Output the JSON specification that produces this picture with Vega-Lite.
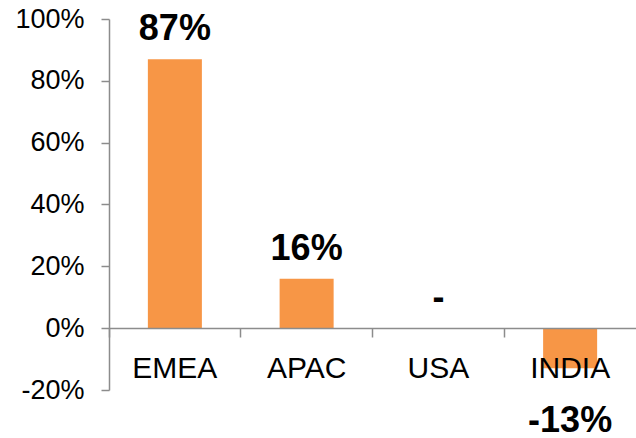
{
  "$schema": "https://vega.github.io/schema/vega-lite/v6.json",
  "autosize": "none",
  "padding": {"left": 109, "top": 19, "right": 0, "bottom": 48},
  "width": 527,
  "height": 371,
  "background": "white",
  "config": {"view": {"stroke": null}, "font": "Liberation Sans"},
  "data": {"values": [
    {"region": "EMEA", "value": 0.87, "label": "87%"},
    {"region": "APAC", "value": 0.16, "label": "16%"},
    {"region": "USA", "value": 0.0, "label": "-"},
    {"region": "INDIA", "value": -0.13, "label": "-13%"}
  ]},
  "encoding": {
    "x": {"field": "region", "type": "nominal", "sort": null,
      "scale": {"paddingInner": 0, "paddingOuter": 0},
      "axis": {"title": null, "orient": "bottom", "offset": -62, "zindex": 1,
        "bandPosition": 0, "domainColor": "#8c8c8c", "domainWidth": 1.5,
        "tickColor": "#8c8c8c", "tickSize": 9, "tickWidth": 1.5,
        "labelFontSize": 30, "labelColor": "black", "labelPadding": 16,
        "labelAlign": "center", "labelAngle": 0, "labelFont": "Liberation Sans"}},
    "y": {"field": "value", "type": "quantitative",
      "scale": {"domain": [-0.2, 1.0], "nice": false, "zero": false},
      "axis": {"title": null, "format": ".0%", "values": [-0.2, 0, 0.2, 0.4, 0.6, 0.8, 1.0],
        "labelExpr": "replace(datum.label, '\u2212', '-')",
        "grid": false, "domainColor": "#8c8c8c", "domainWidth": 1.5,
        "tickColor": "#8c8c8c", "tickSize": 8, "tickWidth": 1.5,
        "labelFontSize": 27, "labelColor": "black", "labelPadding": 17,
        "labelFont": "Liberation Sans"}}
  },
  "layer": [
    {"mark": {"type": "bar", "color": "#F79646", "width": {"band": 0.41}}},
    {"transform": [{"filter": "datum.value >= 0"}],
     "mark": {"type": "text", "fontSize": 36, "fontWeight": "bold", "baseline": "alphabetic", "dy": -19, "color": "black"},
     "encoding": {"text": {"field": "label"}}},
    {"transform": [{"filter": "datum.value < 0"}],
     "mark": {"type": "text", "fontSize": 36, "fontWeight": "bold", "baseline": "alphabetic", "dy": 64, "color": "black"},
     "encoding": {"text": {"field": "label"}}}
  ]
}
